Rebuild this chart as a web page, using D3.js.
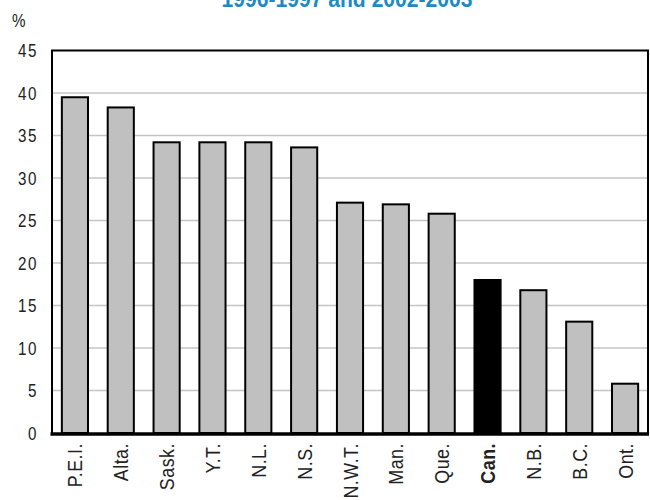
<!DOCTYPE html>
<html><head><meta charset="utf-8">
<script src="https://cdn.jsdelivr.net/npm/d3@7"></script>
<style>
body{margin:0;background:#fff;}
text{font-family:"Liberation Sans",Arial,sans-serif;}
</style></head><body>
<svg id="c" width="650" height="500"></svg>
<script>
const categories = ["P.E.I.","Alta.","Sask.","Y.T.","N.L.","N.S.","N.W.T.","Man.","Que.","Can.","N.B.","B.C.","Ont."];
const values = [39.5, 38.3, 34.2, 34.2, 34.2, 33.6, 27.1, 26.9, 25.8, 18.0, 16.8, 13.1, 5.8];
const highlight = ["Can."];
const yTicks = [0,5,10,15,20,25,30,35,40,45];
const title = "1996-1997 and 2002-2003";

const svg = d3.select("#c");
const L = 52, R = 648, T = 50.5, B = 433;
const SX = 0.8; // horizontal condensing of text
const x = d3.scaleBand().domain(categories).range([L, R]).paddingInner(0.43).paddingOuter(0.215);
const y = d3.scaleLinear().domain([0,45]).range([B, T]);

svg.append("text").attr("text-anchor","middle")
  .attr("transform",`translate(347,7) scale(0.88,1)`)
  .attr("font-size",24).attr("font-weight","bold").attr("fill","#1b8ac6").text(title);

// gridlines
svg.append("g").selectAll("line").data(yTicks.filter(d=>d>0&&d<45)).join("line")
  .attr("x1",L).attr("x2",R).attr("y1",d=>y(d)).attr("y2",d=>y(d))
  .attr("stroke","#c4c4c4").attr("stroke-width",1.5);

// y axis labels
const ya = svg.append("g").attr("transform",`translate(${L},0)`)
  .call(d3.axisLeft(y).tickValues(yTicks).tickSize(0).tickPadding(0));
ya.select(".domain").remove();
ya.selectAll(".tick text").attr("x",0)
  .attr("transform",`translate(-14,0) scale(${SX},1)`)
  .attr("font-size",19).attr("fill","#222").attr("letter-spacing","2px");

svg.append("text").attr("transform",`translate(12,27) scale(${SX},1)`)
  .attr("font-size",19).attr("fill","#222").text("%");

// bars
svg.append("g").selectAll("rect").data(categories).join("rect")
  .attr("x",d=>x(d)).attr("width",x.bandwidth())
  .attr("y",(d,i)=>y(values[i])).attr("height",(d,i)=>B-y(values[i]))
  .attr("fill",d=>highlight.includes(d)?"#000":"#c0c0c0")
  .attr("stroke","#000").attr("stroke-width",2);

// frame
svg.append("path").attr("d",`M${L},${B}V${T}H${R}V${B}`).attr("fill","none")
  .attr("stroke","#000").attr("stroke-width",2);
svg.append("line").attr("x1",L-1.5).attr("x2",R+1).attr("y1",B+1).attr("y2",B+1)
  .attr("stroke","#000").attr("stroke-width",3.5);

// x labels
const xa = svg.append("g").attr("transform",`translate(0,${B})`)
  .call(d3.axisBottom(x).tickSize(0).tickPadding(0));
xa.select(".domain").remove();
xa.selectAll(".tick text")
  .attr("transform",`translate(0,10) rotate(-90) scale(0.85,1)`).attr("text-anchor","end")
  .attr("x",0).attr("y",0).attr("dy","0.36em")
  .attr("font-size",21).attr("fill","#222").attr("letter-spacing","0.6px")
  .attr("font-weight",d=>highlight.includes(d)?"bold":"normal");
</script></body></html>
